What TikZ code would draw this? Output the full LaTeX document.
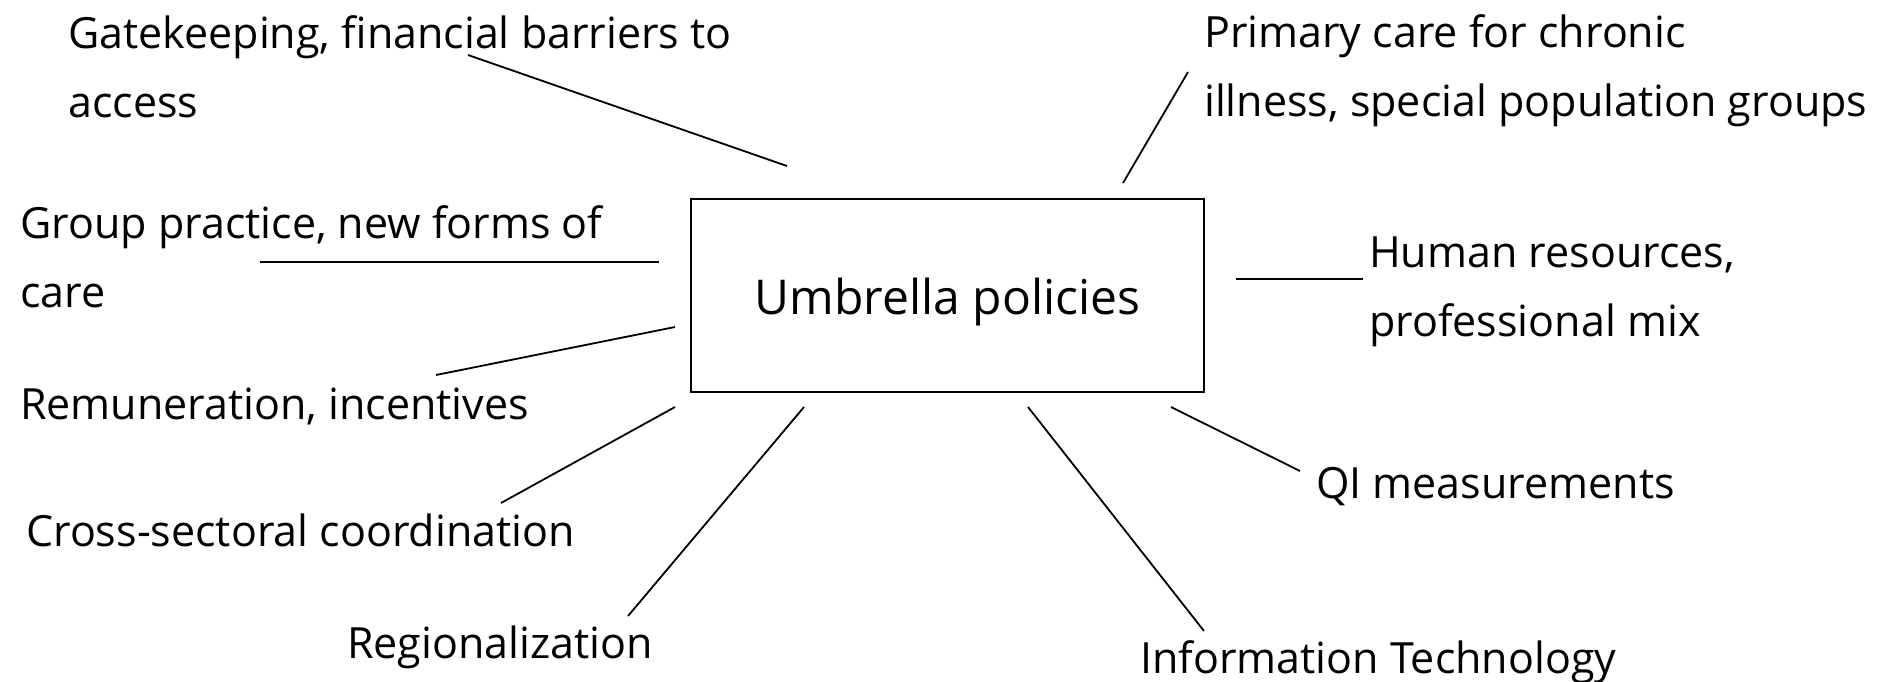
\documentclass[tikz,border=0pt]{standalone}
\usepackage{fontspec}
\setmainfont{Open Sans}
\usetikzlibrary{positioning,calc}

\begin{document}
\begin{tikzpicture}[x=1pt,y=-1pt]
  \tikzset{topic/.style={anchor=west,align=left,inner sep=0pt,font=\fontsize{43}{69}\selectfont}}
  \tikzset{centre/.style={draw,line width=2pt,minimum width=513pt,minimum height=193pt,text height=38pt,text depth=0pt,font=\fontsize{48}{56}\selectfont}}
  \tikzset{spoke/.style={line width=1.8pt}}
  \useasboundingbox (0,0) rectangle (1878,681);

  \node[centre] (umbrella) at (947.5,295.5) {Umbrella policies};

  \node[topic] (gate) at (68,67) {Gatekeeping, financial barriers to\\access};
  \node[topic] (primary) at (1204,71) {Primary care for chronic\\illness, special population groups};
  \node[topic] (group) at (20,257) {Group practice, new forms of\\care};
  \node[topic] (human) at (1369,292) {Human resources,\\professional mix};
  \node[topic] (remun) at (20,406) {Remuneration, incentives};
  \node[topic] (cross) at (26,530) {Cross-sectoral coordination};
  \node[topic] (region) at (347,647) {Regionalization};
  \node[topic] (it) at (1140,662) {Information Technology};
  \node[topic] (qi) at (1316,487) {QI measurements};

  % free ends of the spokes
  \coordinate (gate-a) at (468,55);    \coordinate (gate-b) at (787,166);
  \coordinate (primary-a) at (1188,72); \coordinate (primary-b) at (1123,183);
  \coordinate (group-a) at (260,262);  \coordinate (group-b) at (659,262);
  \coordinate (human-a) at (1236,279); \coordinate (human-b) at (1363,279);
  \coordinate (remun-a) at (436,375);  \coordinate (remun-b) at (675,327);
  \coordinate (cross-a) at (501,503);  \coordinate (cross-b) at (675,407);
  \coordinate (region-a) at (628,616); \coordinate (region-b) at (804,407);
  \coordinate (it-a) at (1204,631);    \coordinate (it-b) at (1028,407);
  \coordinate (qi-a) at (1300,471);    \coordinate (qi-b) at (1171,407);

  \foreach \s in {gate,primary,group,human,remun,cross,region,it,qi}
    \draw[spoke] (\s-a) -- (\s-b);
\end{tikzpicture}
\end{document}
